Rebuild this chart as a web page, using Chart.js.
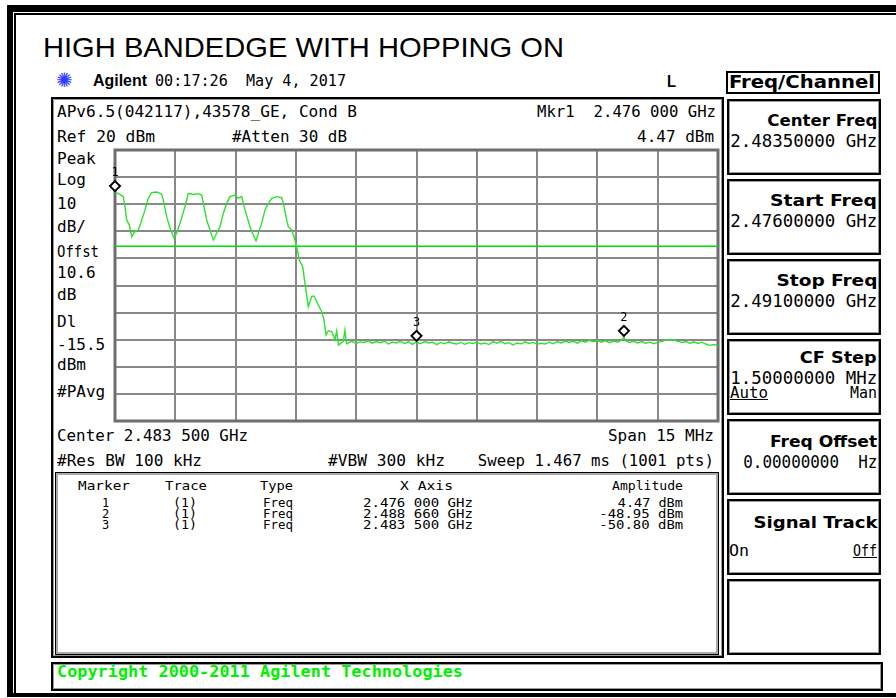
<!DOCTYPE html>
<html>
<head>
<meta charset="utf-8">
<script src="https://cdn.jsdelivr.net/npm/chart.js@4.4.0/dist/chart.umd.min.js"></script>
<style>
  body { margin: 0; background: #fff; }
  #page { position: relative; width: 896px; height: 698px; overflow: hidden; background: #fff; }
  .box { position: absolute; box-sizing: border-box; }
  .t { position: absolute; white-space: pre; line-height: 1; color: #000; font-family: "DejaVu Sans Mono", monospace; font-size: 16px; transform-origin: left center; }
  .k { font-family: "DejaVu Sans Condensed", "DejaVu Sans", sans-serif; font-weight: bold; font-size: 16px; }
  .s13 { font-size: 12px; }
  .s17 { font-size: 17px; }
  .u { text-decoration: underline; }
  #chartWrap { position: absolute; left: 100px; top: 135px; width: 640px; height: 300px; }
</style>
</head>
<body>
<div id="page">
  <!-- outer frame -->
  <div class="box" style="left:7px;top:5px;width:900px;height:692px;border-top:7px solid #000;border-left:6px solid #000;border-bottom:4px solid #000;"></div>
  <div class="box" style="left:14px;top:13px;width:900px;height:680px;border-top:2px solid #000;border-left:2px solid #000;"></div>

  <div class="t" data-x="43" data-b="58" data-w="521" style="font-family:'Liberation Sans',Arial,sans-serif;font-size:28px;">HIGH BANDEDGE WITH HOPPING ON</div>
  <div class="t" data-x="56" data-b="87" style="font-family:'DejaVu Sans';font-size:20px;color:#2f3dff;">✺</div>
  <div class="t" data-x="93" data-b="87" data-w="54" style="font-family:'Liberation Sans',Arial;font-weight:bold;font-size:16px;">Agilent</div>
  <div class="t" data-x="155" data-b="87" data-w="191" style="font-size:15px;">00:17:26  May 4, 2017</div>
  <div class="t" data-x="667" data-b="87" data-w="9" style="font-family:'Liberation Sans',Arial;font-weight:bold;font-size:17px;">L</div>

  <!-- main display box -->
  <div class="box" style="left:51px;top:97px;width:673px;height:561px;border:2px solid #000;box-shadow:inset 0 0 0 1px #999;"></div>
  <div class="t" data-x="57" data-b="118" data-w="300">APv6.5(042117),43578_GE, Cond B</div>
  <div class="t" data-r="716" data-b="118" data-w="179">Mkr1  2.476 000 GHz</div>
  <div class="t" data-x="57" data-b="143" data-w="98">Ref 20 dBm</div>
  <div class="t" data-x="232" data-b="143" data-w="115">#Atten 30 dB</div>
  <div class="t" data-r="714" data-b="143" data-w="77">4.47 dBm</div>

  <div class="t" data-x="57" data-b="165">Peak</div>
  <div class="t" data-x="57" data-b="186">Log</div>
  <div class="t" data-x="57" data-b="210">10</div>
  <div class="t" data-x="57" data-b="233">dB/</div>
  <div class="t" data-x="57" data-b="258" data-w="42">Offst</div>
  <div class="t" data-x="57" data-b="279">10.6</div>
  <div class="t" data-x="57" data-b="301">dB</div>
  <div class="t" data-x="57" data-b="328">Dl</div>
  <div class="t" data-x="57" data-b="351">-15.5</div>
  <div class="t" data-x="57" data-b="371">dBm</div>
  <div class="t" data-x="57" data-b="398">#PAvg</div>

  <div class="t" data-x="57" data-b="442" data-w="191">Center 2.483 500 GHz</div>
  <div class="t" data-r="714" data-b="442" data-w="106">Span 15 MHz</div>
  <div class="t" data-x="57" data-b="467" data-w="145">#Res BW 100 kHz</div>
  <div class="t" data-x="328" data-b="467" data-w="117">#VBW 300 kHz</div>
  <div class="t" data-r="714" data-b="467" data-w="236">Sweep 1.467 ms (1001 pts)</div>

  <!-- marker table -->
  <div class="box" style="left:55px;top:472px;width:664px;height:183px;border:1px solid #000;box-shadow:inset 0 0 0 2px #aaa;"></div>
  <div class="t s13" data-x="78" data-b="490" data-w="52">Marker</div>
  <div class="t s13" data-x="165" data-b="490" data-w="42">Trace</div>
  <div class="t s13" data-x="260" data-b="490" data-w="33">Type</div>
  <div class="t s13" data-x="400" data-b="490" data-w="53">X Axis</div>
  <div class="t s13" data-x="612" data-b="490" data-w="71">Amplitude</div>

  <div class="t s13" data-x="102" data-b="507">1</div>
  <div class="t s13" data-x="173" data-b="507" data-w="24">(1)</div>
  <div class="t s13" data-x="263" data-b="507" data-w="30">Freq</div>
  <div class="t s13" data-x="363" data-b="507" data-w="110">2.476 000 GHz</div>
  <div class="t s13" data-r="683" data-b="507" data-w="65">4.47 dBm</div>

  <div class="t s13" data-x="102" data-b="518">2</div>
  <div class="t s13" data-x="173" data-b="518" data-w="24">(1)</div>
  <div class="t s13" data-x="263" data-b="518" data-w="30">Freq</div>
  <div class="t s13" data-x="363" data-b="518" data-w="110">2.488 660 GHz</div>
  <div class="t s13" data-r="683" data-b="518" data-w="84">-48.95 dBm</div>

  <div class="t s13" data-x="102" data-b="529">3</div>
  <div class="t s13" data-x="173" data-b="529" data-w="24">(1)</div>
  <div class="t s13" data-x="263" data-b="529" data-w="30">Freq</div>
  <div class="t s13" data-x="363" data-b="529" data-w="110">2.483 500 GHz</div>
  <div class="t s13" data-r="683" data-b="529" data-w="84">-50.80 dBm</div>

  <!-- softkeys -->
  <div class="box" style="left:726px;top:71px;width:154px;height:23px;border:2px solid #000;"></div>
  <div class="t k s17" data-x="729" data-b="88" data-w="146">Freq/Channel</div>

  <div class="box" style="left:727px;top:99px;width:154px;height:76px;border:2px solid #000;box-shadow:inset 0 0 0 1px #999;"></div>
  <div class="box" style="left:727px;top:179px;width:154px;height:76px;border:2px solid #000;box-shadow:inset 0 0 0 1px #999;"></div>
  <div class="box" style="left:727px;top:259px;width:154px;height:76px;border:2px solid #000;box-shadow:inset 0 0 0 1px #999;"></div>
  <div class="box" style="left:727px;top:339px;width:154px;height:76px;border:2px solid #000;box-shadow:inset 0 0 0 1px #999;"></div>
  <div class="box" style="left:727px;top:419px;width:154px;height:76px;border:2px solid #000;box-shadow:inset 0 0 0 1px #999;"></div>
  <div class="box" style="left:727px;top:499px;width:154px;height:76px;border:2px solid #000;box-shadow:inset 0 0 0 1px #999;"></div>
  <div class="box" style="left:727px;top:579px;width:154px;height:76px;border:2px solid #000;box-shadow:inset 0 0 0 1px #999;"></div>

  <div class="t k" data-r="877" data-b="127" data-w="110">Center Freq</div>
  <div class="t s17" data-r="877" data-b="147" data-w="147">2.48350000 GHz</div>
  <div class="t k" data-r="877" data-b="207" data-w="107">Start Freq</div>
  <div class="t s17" data-r="877" data-b="227" data-w="147">2.47600000 GHz</div>
  <div class="t k" data-r="877" data-b="287" data-w="101">Stop Freq</div>
  <div class="t s17" data-r="877" data-b="307" data-w="147">2.49100000 GHz</div>
  <div class="t k" data-r="877" data-b="364" data-w="77">CF Step</div>
  <div class="t s17" data-r="877" data-b="384" data-w="147">1.50000000 MHz</div>
  <div class="t u" data-x="730" data-b="399" data-w="38">Auto</div>
  <div class="t" data-r="877" data-b="399" data-w="27">Man</div>
  <div class="t k" data-r="877" data-b="448" data-w="107">Freq Offset</div>
  <div class="t s17" data-r="877" data-b="468" data-w="134">0.00000000  Hz</div>
  <div class="t k" data-r="877" data-b="529" data-w="124">Signal Track</div>
  <div class="t" data-x="729" data-b="557" data-w="20">On</div>
  <div class="t u" data-r="877" data-b="557" data-w="24">Off</div>

  <!-- copyright bar -->
  <div class="box" style="left:51px;top:662px;width:832px;height:29px;border:2px solid #000;box-shadow:inset 0 0 0 1px #999;"></div>
  <div class="t" data-x="57" data-b="678" data-w="406" style="font-weight:bold;color:#00f000;">Copyright 2000-2011 Agilent Technologies</div>

  <div id="chartWrap"><canvas id="trace" width="640" height="300"></canvas></div>
</div>

<script>
// sweep trace: frequency in MHz, level in dBm
const traceFreq = [
  2476.000, 2476.124, 2476.207, 2476.249, 2476.290, 2476.357, 2476.415, 2476.498, 2476.580, 2476.639,
  2476.746, 2476.829, 2476.912, 2477.037, 2477.161, 2477.219, 2477.285, 2477.368, 2477.468, 2477.534,
  2477.617, 2477.741, 2477.824, 2477.948, 2478.060, 2478.156, 2478.214, 2478.280, 2478.363, 2478.446,
  2478.529, 2478.612, 2478.694, 2478.778, 2478.861, 2478.985, 2479.067, 2479.152, 2479.234, 2479.358,
  2479.441, 2479.508, 2479.565, 2479.649, 2479.731, 2479.774, 2479.838, 2479.898, 2480.022, 2480.147,
  2480.187, 2480.271, 2480.311, 2480.396, 2480.453, 2480.520, 2480.585, 2480.669, 2480.726, 2480.809,
  2480.893, 2480.950, 2481.057, 2481.142, 2481.199, 2481.249, 2481.306, 2481.391, 2481.473, 2481.515,
  2481.560, 2481.680, 2481.720, 2481.760,
  2481.8, 2481.9, 2482.0, 2482.1, 2482.2, 2482.3, 2482.4, 2482.5, 2482.6, 2482.7,
  2482.8, 2482.9, 2483.0, 2483.1, 2483.2, 2483.3, 2483.4, 2483.5, 2483.6, 2483.7,
  2483.8, 2483.9, 2484.0, 2484.1, 2484.2, 2484.3, 2484.4, 2484.5, 2484.6, 2484.7,
  2484.8, 2484.9, 2485.0, 2485.1, 2485.2, 2485.3, 2485.4, 2485.5, 2485.6, 2485.7,
  2485.8, 2485.9, 2486.0, 2486.1, 2486.2, 2486.3, 2486.4, 2486.5, 2486.6, 2486.7,
  2486.8, 2486.9, 2487.0, 2487.1, 2487.2, 2487.3, 2487.4, 2487.5, 2487.6, 2487.7,
  2487.8, 2487.9, 2488.0, 2488.1, 2488.2, 2488.3, 2488.4, 2488.5, 2488.6, 2488.66,
  2488.7, 2488.8, 2488.9, 2489.0, 2489.1, 2489.2, 2489.3, 2489.4, 2489.5, 2489.6,
  2489.7, 2489.8, 2489.9, 2490.0, 2490.1, 2490.2, 2490.3, 2490.4, 2490.5, 2490.6,
  2490.7, 2490.8, 2490.9, 2491.0
];
const traceLevel = [
  4.5, 3.6, 2.8, -0.9, -5.8, -7.7, -12.0, -10.1, -9.5, -7.0,
  -2.1, 2.2, 4.3, 4.5, 3.8, 0.4, -4.6, -8.8, -12.5, -10.7,
  -7.0, -0.9, 4.0, 3.6, 3.9, 3.4, -0.9, -5.8, -9.5, -13.2,
  -10.7, -8.3, -3.4, 0.3, 2.8, 3.4, 2.2, 2.8, -2.1, -8.3,
  -11.4, -13.5, -10.7, -7.0, -2.1, -0.9, 0.8, 2.2, 2.8, 2.4,
  0.3, -5.8, -8.3, -9.5, -12.0, -15.7, -20.6, -23.1, -29.2, -37.8,
  -34.1, -33.9, -37.2, -39.7, -42.7, -48.3, -46.7, -47.0, -50.0, -46.8,
  -52.0, -50.6, -46.5, -51.5,
  -51.2, -50.6, -51.4, -50.8, -51.0, -50.4, -51.3, -50.7, -51.1, -50.5,
  -51.6, -50.9, -51.2, -50.6, -51.4, -50.8, -51.7, -50.8, -51.5, -50.7,
  -51.2, -50.9, -51.8, -51.0, -51.5, -50.8, -51.3, -51.6, -51.0, -51.7,
  -51.1, -51.4, -50.9, -51.6, -51.2, -51.8, -50.7, -51.3, -50.6, -51.5,
  -51.1, -51.9, -51.2, -51.5, -50.8, -51.4, -51.0, -51.7, -51.3, -51.6,
  -50.9, -51.5, -50.7, -51.2, -50.5, -51.0, -50.6, -51.3, -50.4, -50.9,
  -50.2, -50.8, -50.3, -50.9, -50.4, -51.1, -50.5, -50.9, -50.2, -48.95,
  -50.4, -51.0, -50.6, -51.2, -50.7, -51.3, -50.9, -51.5, -51.0, -50.6,
  -50.2, -49.9, -50.1, -50.6, -51.0, -50.7, -51.3, -50.8, -51.4, -50.9,
  -51.6, -52.1, -51.8, -52.3
];

// display line
const displayLineDbm = -15.5;

// markers: label, frequency (MHz), amplitude (dBm)
const markerLabels = ["1", "2", "3"];
const markerFreq = [2476.000, 2488.660, 2483.500];
const markerAmp = [4.47, -48.95, -50.80];

// screen scales
const startFreq = 2476, stopFreq = 2491, freqDiv = 1.5;
const refLevel = 20, bottomLevel = -80, dbPerDiv = 10;

// place the text labels on their baselines
document.querySelectorAll(".t").forEach(function (el) {
  const fs = parseFloat(getComputedStyle(el).fontSize);
  el.style.top = (parseFloat(el.dataset.b) - 0.846 * fs) + "px";
  if (el.dataset.x) el.style.left = el.dataset.x + "px";
  if (el.dataset.r) {
    el.style.right = (896 - parseFloat(el.dataset.r)) + "px";
    el.style.transformOrigin = "right center";
  }
  if (el.dataset.w) {
    const w = el.getBoundingClientRect().width;
    el.style.transform = "scaleX(" + (parseFloat(el.dataset.w) / w) + ")";
  }
});

const graticuleBorder = {
  id: "graticuleBorder",
  beforeDatasetsDraw(chart) {
    const a = chart.chartArea, ctx = chart.ctx;
    ctx.save();
    ctx.strokeStyle = "#6e6e6e";
    ctx.lineWidth = 3;
    ctx.strokeRect(a.left, a.top, a.right - a.left, a.bottom - a.top);
    ctx.restore();
  }
};

const markerPlugin = {
  id: "markers",
  afterDraw(chart) {
    const ctx = chart.ctx, xs = chart.scales.x, ys = chart.scales.y;
    ctx.save();
    for (let i = 0; i < markerLabels.length; i++) {
      const px = xs.getPixelForValue(markerFreq[i]);
      const cy = ys.getPixelForValue(markerAmp[i]) - 6;
      ctx.beginPath();
      ctx.moveTo(px, cy - 5);
      ctx.lineTo(px + 5, cy);
      ctx.lineTo(px, cy + 5);
      ctx.lineTo(px - 5, cy);
      ctx.closePath();
      ctx.fillStyle = "#fff";
      ctx.fill();
      ctx.strokeStyle = "#000";
      ctx.lineWidth = 2;
      ctx.stroke();
      ctx.fillStyle = "#000";
      ctx.font = "12px 'DejaVu Sans Mono'";
      ctx.textAlign = "center";
      ctx.textBaseline = "alphabetic";
      ctx.fillText(markerLabels[i], px, cy - 10);
    }
    ctx.restore();
  }
};

const tracePoints = traceFreq.map(function (f, i) { return { x: f, y: traceLevel[i] }; });

new Chart(document.getElementById("trace"), {
  type: "line",
  data: {
    datasets: [
      {
        data: tracePoints,
        borderColor: "#2fe02f",
        borderWidth: 1.4,
        pointRadius: 0,
        tension: 0,
      },
      {
        data: [{ x: startFreq, y: displayLineDbm }, { x: stopFreq, y: displayLineDbm }],
        borderColor: "#00e000",
        borderWidth: 1.6,
        pointRadius: 0,
      },
    ],
  },
  options: {
    responsive: false,
    animation: false,
    layout: { padding: { left: 15, top: 15, right: 22, bottom: 14 } },
    plugins: {
      legend: { display: false },
      tooltip: { enabled: false },
    },
    scales: {
      x: {
        type: "linear",
        min: startFreq,
        max: stopFreq,
        ticks: { stepSize: freqDiv, display: false },
        grid: { color: "#888", lineWidth: 2, drawTicks: false },
        border: { display: false },
      },
      y: {
        min: bottomLevel,
        max: refLevel,
        ticks: { stepSize: dbPerDiv, display: false },
        grid: { color: "#888", lineWidth: 2, drawTicks: false },
        border: { display: false },
      },
    },
  },
  plugins: [graticuleBorder, markerPlugin],
});
</script>
</body>
</html>
